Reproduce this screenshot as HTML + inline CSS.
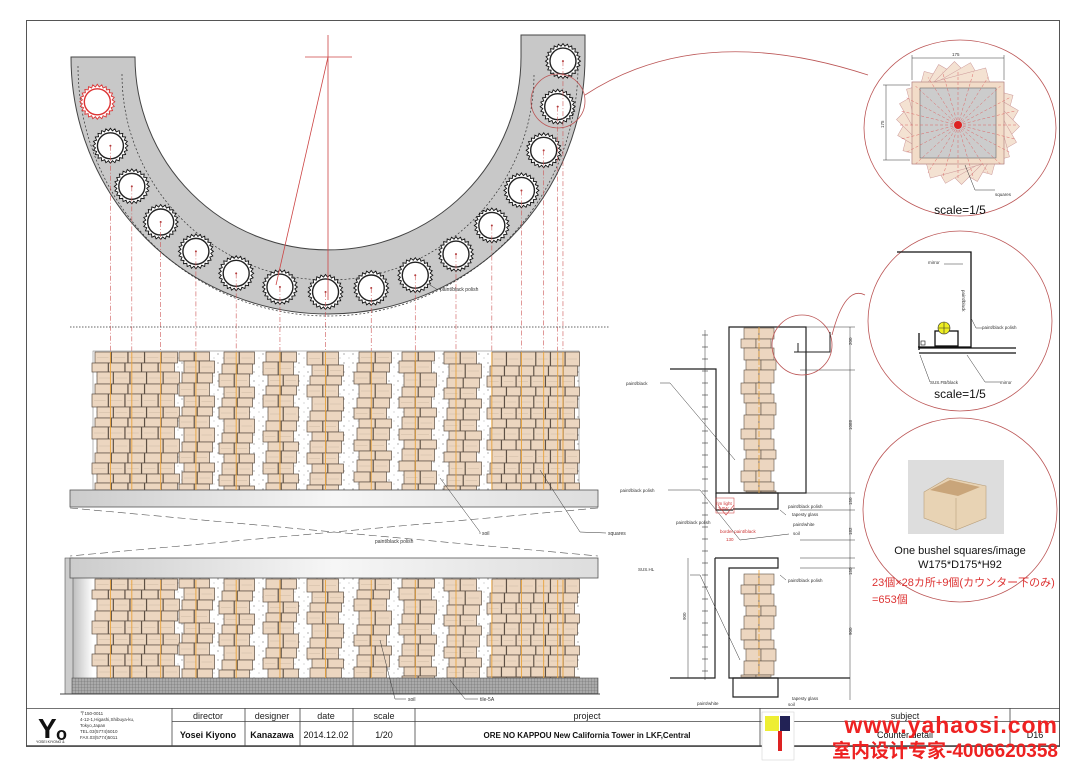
<!DOCTYPE html>
<html><head><meta charset="utf-8">
<style>
html,body{margin:0;padding:0;background:#fff;}
svg{display:block;font-family:"Liberation Sans","Noto Sans CJK SC",sans-serif;}
</style></head>
<body>
<svg id="s" width="1080" height="764" viewBox="0 0 1080 764" xmlns="http://www.w3.org/2000/svg">
<defs>
<pattern id="dots" width="9" height="9" patternUnits="userSpaceOnUse">
<rect width="9" height="9" fill="#fff"/><circle cx="2" cy="3" r="0.6" fill="#777"/><circle cx="7" cy="7" r="0.5" fill="#999"/>
</pattern>
<pattern id="grid" width="3" height="3" patternUnits="userSpaceOnUse">
<rect width="3" height="3" fill="#aaa"/><path d="M0 0H3M0 0V3" stroke="#666" stroke-width="0.6"/>
</pattern>
<linearGradient id="slab" x1="0" y1="0" x2="1" y2="0"><stop offset="0" stop-color="#ccc"/><stop offset="0.5" stop-color="#f6f6f6"/><stop offset="1" stop-color="#ddd"/></linearGradient>
<linearGradient id="wallg" x1="0" y1="0" x2="1" y2="0"><stop offset="0" stop-color="#bbb"/><stop offset="1" stop-color="#fff"/></linearGradient>
</defs>
<rect x="26.5" y="20.5" width="1033" height="726" fill="none" stroke="#555" stroke-width="1"/>

<path d="M71 57 L71 57 A257 257 0 0 0 585 57 L585 35 L521 35 L521 57 A193 193 0 0 1 135 57 L135 57 Z" fill="#c8c8c8" stroke="#444" stroke-width="1"/>
<path d="M78 66 A250 250 0 0 0 578 66" fill="none" stroke="#333" stroke-dasharray="2,2" stroke-width="0.7"/>
<path d="M122 74 A206 206 0 0 0 534 74" fill="none" stroke="#333" stroke-dasharray="2,2" stroke-width="0.7"/>
<g id="ringcircles"></g>

<line x1="328" y1="35" x2="328" y2="300" stroke="#c44" stroke-width="0.8"/>
<line x1="305" y1="57" x2="352" y2="57" stroke="#c44" stroke-width="0.8"/>
<line x1="328" y1="57" x2="276" y2="285" stroke="#c44" stroke-width="0.8"/>
<text x="440" y="291" font-size="5" fill="#333">paint/black polish</text>
<line x1="430" y1="285" x2="438" y2="290" stroke="#333" stroke-width="0.5"/>

<line x1="70" y1="327" x2="610" y2="327" stroke="#333" stroke-dasharray="1.5,1.5" stroke-width="0.8"/>

<rect x="93" y="351" width="486" height="139" fill="url(#dots)" stroke="#888" stroke-width="0.6"/>
<g id="bricks1"></g>
<rect x="70" y="490" width="528" height="17" fill="url(#slab)" stroke="#555" stroke-width="0.8"/>
<path d="M70 508 L598 556 M598 508 L70 556" stroke="#555" stroke-dasharray="8,4" stroke-width="0.6" fill="none"/>

<rect x="72" y="578" width="507" height="100" fill="url(#dots)"/>
<rect x="72" y="578" width="21" height="100" fill="url(#wallg)"/>
<g id="bricks2"></g>
<rect x="65" y="558" width="8" height="136" fill="#ccc" stroke="#555" stroke-width="0.6"/>
<rect x="70" y="558" width="528" height="20" fill="url(#slab)" stroke="#555" stroke-width="0.8"/>
<rect x="72" y="678" width="526" height="16" fill="url(#grid)" stroke="#555" stroke-width="0.6"/>
<line x1="60" y1="694" x2="600" y2="694" stroke="#444" stroke-width="1"/>
<g id="ovl"></g>

<text x="375" y="543" font-size="5" fill="#333">paint/black polish</text>
<text x="482" y="535" font-size="5" fill="#333">soil</text>
<text x="608" y="535" font-size="5" fill="#333">squares</text>
<path d="M440 478 L480 532 L480 534 M540 470 L580 532 L606 533" stroke="#333" stroke-width="0.5" fill="none"/>
<text x="408" y="701" font-size="5" fill="#333">soil</text>
<text x="480" y="701" font-size="5" fill="#333">tile-5A</text>
<path d="M380 640 L395 699 L406 699 M450 680 L465 699 L478 699" stroke="#333" stroke-width="0.5" fill="none"/>

<g stroke="#222" fill="none" stroke-width="1.2">
<path d="M729 327 L806 327 L806 493 L729 493 Z"/>
<path d="M729 493 L778 493 L778 509 L733 509"/>
<path d="M670 369 L716 369 L716 493 L729 493"/>
<path d="M716 493 L716 510 L733 510"/>
<path d="M715 558 L778 558 L778 568 L729 568 L729 678 L778 678"/>
<path d="M715 558 L715 678 L670 678"/>
<path d="M733 678 L778 678 L778 697 L733 697 Z"/>
<path d="M778 678 L850 678"/>
</g>
<g id="secb"></g>
<line x1="759" y1="327" x2="759" y2="493" stroke="#e8a33c" stroke-width="0.8" stroke-dasharray="6,2"/>
<line x1="759" y1="570" x2="759" y2="676" stroke="#e8a33c" stroke-width="0.8" stroke-dasharray="6,2"/>
<g stroke="#333" stroke-width="0.5">
<line x1="705" y1="330" x2="705" y2="680"/>
<line x1="850" y1="327" x2="850" y2="700"/>
<line x1="800" y1="327" x2="855" y2="327"/><line x1="800" y1="370" x2="855" y2="370"/>
<line x1="800" y1="493" x2="855" y2="493"/><line x1="800" y1="510" x2="855" y2="510"/>
<line x1="800" y1="540" x2="855" y2="540"/><line x1="800" y1="558" x2="855" y2="558"/>
<line x1="800" y1="568" x2="855" y2="568"/>
<line x1="688" y1="558" x2="688" y2="678"/>
</g>
<g id="ticks"></g>
<g font-size="4.5" fill="#333">
<text x="626" y="385">paint/black</text>
<text x="620" y="492">paint/black polish</text>
<text x="676" y="524">paint/black polish</text>
<text x="788" y="508">paint/black polish</text>
<text x="792" y="516">tapesty glass</text>
<text x="793" y="526">paint/white</text>
<text x="793" y="535">soil</text>
<text x="638" y="571">SUS.HL</text>
<text x="788" y="582">paint/black polish</text>
<text x="792" y="700">tapesty glass</text>
<text x="697" y="705">paint/white</text>
<text x="788" y="706">soil</text>
<text x="852" y="345" transform="rotate(-90 852 345)">200</text>
<text x="852" y="430" transform="rotate(-90 852 430)">1088</text>
<text x="852" y="505" transform="rotate(-90 852 505)">150</text>
<text x="852" y="535" transform="rotate(-90 852 535)">182</text>
<text x="852" y="575" transform="rotate(-90 852 575)">150</text>
<text x="852" y="635" transform="rotate(-90 852 635)">900</text>
<text x="686" y="620" transform="rotate(-90 686 620)">900</text>
</g>
<g fill="none" stroke="#333" stroke-width="0.5">
<path d="M660 383 L670 383 L735 460 M668 490 L700 490 L740 540 L789 534 M690 575 L700 575 L740 660 M780 510 L786 515 M780 575 L786 580"/>
</g>
<g fill="#c33" font-size="4.5"><text x="716" y="505">rim light</text><text x="718" y="510">3.0W</text><text x="720" y="533">border paint/black</text><text x="726" y="541">130</text></g>
<rect x="716" y="498" width="18" height="15" fill="none" stroke="#c33" stroke-width="0.5"/>
<path d="M718 505 l8 10 l8 -10" fill="none" stroke="#c33" stroke-width="0.6"/>

<circle cx="558" cy="101" r="27" fill="none" stroke="#b55" stroke-width="0.8"/>
<path d="M585 95 Q700 20 868 75" fill="none" stroke="#b55" stroke-width="0.8"/>
<circle cx="802" cy="345" r="30" fill="none" stroke="#b55" stroke-width="0.8"/>
<path d="M832 335 Q845 285 865 295" fill="none" stroke="#b55" stroke-width="0.8"/>
<path d="M798 343 L798 352 L806 352 M794 352 L830 352 L830 332" fill="none" stroke="#222" stroke-width="1"/>

<ellipse cx="960" cy="128" rx="96" ry="88" fill="#fff" stroke="#b55" stroke-width="0.8"/>
<g id="star"></g>
<rect x="912" y="82" width="92" height="82" fill="#f2dcc8" stroke="#a77" stroke-width="0.6"/>
<rect x="920" y="88" width="76" height="70" fill="#ccc" stroke="#666" stroke-width="0.6"/>
<g id="rays"></g>
<circle cx="958" cy="125" r="4" fill="#d22"/>
<g stroke="#333" stroke-width="0.5" fill="none"><path d="M912 55 V80 M1004 55 V80 M912 58 H1004 M883 85 H910 M883 160 H910 M886 85 V160"/><path d="M965 165 L975 190 L995 190"/></g>
<text x="952" y="56" font-size="4.5" fill="#333">175</text>
<text x="884" y="128" font-size="4.5" fill="#333" transform="rotate(-90 884 128)">175</text>
<text x="995" y="196" font-size="4.5" fill="#333">squares</text>
<text x="960" y="214" font-size="12" text-anchor="middle" fill="#111">scale=1/5</text>

<ellipse cx="960" cy="321" rx="92" ry="90" fill="#fff" stroke="#b55" stroke-width="0.8"/>
<g stroke="#111" stroke-width="1.3" fill="none">
<path d="M897 252 H971 V347 H918"/>
<path d="M919 333 V350 M919 348 H1016 M919 353 H1016"/>
<rect x="935" y="331" width="23" height="15"/>
<rect x="921" y="341" width="4" height="4" stroke-width="0.6"/>
</g>
<circle cx="944" cy="328" r="6" fill="#ee2" stroke="#333" stroke-width="0.6"/>
<path d="M938 328 H950 M944 322 V334" stroke="#333" stroke-width="0.6"/>
<g font-size="4.5" fill="#333"><text x="928" y="264">mirror</text><text x="982" y="329">paint/black polish</text><text x="930" y="384">SUS.FB/black</text><text x="1000" y="384">mirror</text><text x="962" y="290" transform="rotate(90 962 290)">paint/black</text></g>
<g stroke="#333" stroke-width="0.5" fill="none"><path d="M944 264 H963 M971 318 L976 328 H982 M920 355 L930 382 M967 355 L985 382 H1000"/></g>
<text x="960" y="398" font-size="12" text-anchor="middle" fill="#111">scale=1/5</text>

<ellipse cx="960" cy="510" rx="97" ry="92" fill="#fff" stroke="#b55" stroke-width="0.8"/>
<rect x="908" y="460" width="96" height="74" fill="#ddd"/>
<path d="M924 492 L948 478 L986 486 L986 518 L956 530 L924 518 Z" fill="#e8d3b4" stroke="#b9a07c" stroke-width="0.6"/>
<path d="M930 490 L950 480 L980 487 L958 496 Z" fill="#c9a57a"/>
<path d="M956 498 V530" stroke="#b9a07c" stroke-width="0.6"/>
<text x="960" y="554" font-size="11" text-anchor="middle" fill="#111">One bushel squares/image</text>
<text x="960" y="568" font-size="11" text-anchor="middle" fill="#111">W175*D175*H92</text>
<text x="872" y="586" font-size="11" fill="#d33">23個×28カ所+9個(カウンター下のみ)</text>
<text x="872" y="603" font-size="11" fill="#d33">=653個</text>

<g stroke="#444" stroke-width="0.8" fill="none">
<line x1="26" y1="708.5" x2="1060" y2="708.5"/>
<line x1="172" y1="721.5" x2="1060" y2="721.5"/>
<line x1="26" y1="745.5" x2="1060" y2="745.5"/>
<line x1="172" y1="708" x2="172" y2="746"/><line x1="245" y1="708" x2="245" y2="746"/>
<line x1="300" y1="708" x2="300" y2="746"/><line x1="353" y1="708" x2="353" y2="746"/>
<line x1="415" y1="708" x2="415" y2="746"/><line x1="760" y1="708" x2="760" y2="746"/>
<line x1="1010" y1="708" x2="1010" y2="746"/>
</g>
<text x="38" y="738" font-size="28" font-weight="bold" fill="#111">Y</text>
<text x="56" y="740" font-size="18" font-weight="bold" fill="#111">o</text>
<text x="36" y="743" font-size="3.5" fill="#111">YOSEI KIYONO &amp;</text>
<g font-size="4.5" fill="#333"><text x="80" y="715">〒150-0011</text><text x="80" y="721">4-12-1,Higashi,Shibuya-ku,</text><text x="80" y="727">Tokyo,Japan</text><text x="80" y="733">TEL.03(5774)5010</text><text x="80" y="739">FAX.03(5774)5011</text></g>
<g font-size="9" fill="#222" text-anchor="middle"><text x="208" y="719">director</text><text x="272" y="719">designer</text><text x="326" y="719">date</text><text x="384" y="719">scale</text><text x="587" y="719">project</text><text x="905" y="719">subject</text></g>
<g font-size="9" fill="#111" text-anchor="middle"><text x="208" y="738" font-weight="bold">Yosei Kiyono</text><text x="272" y="738" font-weight="bold">Kanazawa</text><text x="326" y="738">2014.12.02</text><text x="384" y="738">1/20</text><text x="587" y="738" font-weight="bold" font-size="8">ORE NO KAPPOU  New California Tower in LKF,Central</text><text x="905" y="738">Counter detail</text><text x="1035" y="738">D16</text></g>
<rect x="762" y="712" width="32" height="48" fill="#fff" stroke="#ccc" stroke-width="0.5"/>
<rect x="765" y="716" width="14" height="15" fill="#ee3"/><rect x="780" y="716" width="10" height="15" fill="#225"/><rect x="778" y="731" width="4" height="20" fill="#d22"/>
<text x="1058" y="733" font-size="23" font-weight="bold" fill="#e22" text-anchor="end" letter-spacing="1">www.yahaosi.com</text>
<text x="1058" y="757" font-size="19" font-weight="bold" fill="#e22" text-anchor="end">室内设计专家-4006620358</text>
</svg>
<script>
var NS="http://www.w3.org/2000/svg";
function el(p,t,a){var e=document.createElementNS(NS,t);for(var k in a)e.setAttribute(k,a[k]);p.appendChild(e);return e;}
var rc=document.getElementById('ringcircles');
var ovl=document.getElementById('ovl');
var xs=[];
for(var i=0;i<16;i++){var a=(169-i*11.2)*Math.PI/180;var x=328+235*Math.cos(a),y=57+235*Math.sin(a);
 var red=(i==0);
 var pts="";for(var j=0;j<48;j++){var b=j*Math.PI/24;var r=(j%2?15:17.5);pts+=(x+r*Math.cos(b)).toFixed(1)+","+(y+r*Math.sin(b)).toFixed(1)+" ";}
 el(rc,'polygon',{points:pts,fill:'#fff',stroke:red?'#d33':'#111','stroke-width':'0.9'});
 el(rc,'circle',{cx:x,cy:y,r:13,fill:'#fff',stroke:red?'#d33':'#222','stroke-width':'1.4'});
 if(!red){el(rc,'circle',{cx:x,cy:y,r:1,fill:'#a33'});
  el(rc,'line',{x1:x,y1:y,x2:x,y2:351,stroke:'#c55','stroke-width':'0.6','stroke-dasharray':'5,2,1,2'});
  xs.push(x);}
}
var cols=[[95,178],[182,213],[222,253],[266,297],[310,342],[357,390],[402,435],[447,480],[490,578]];
var hs=[11,9,12,10,13,11,9,12,14,10,11,9,12];
function bricks(g,y0,y1){
 for(var c=0;c<cols.length;c++){var a=cols[c][0],b=cols[c][1];
  for(var y=y0,row=0;y<y1;row++){var off=((row+c)%3==1)?-3:((row+c)%3==2?2:0);var h=Math.min(hs[(row+c)%hs.length],y1-y);
   var w=b-a;var n=Math.max(1,Math.round(w/16));var bw=w/n;
   for(var k=0;k<n;k++){var xx=a+k*bw+off;
    el(g,'rect',{x:xx.toFixed(1),y:y,width:(bw-0.5).toFixed(1),height:h,fill:'#ecd6c0',stroke:'#5e5045','stroke-width':'0.7'});
    if(h>10)el(g,'line',{x1:xx+2,y1:y+h/2,x2:xx+bw-3,y2:y+h/2,stroke:'#c8b49f','stroke-width':'0.4'});}
   y+=h;}}
}
bricks(document.getElementById('bricks1'),352,490);
bricks(document.getElementById('bricks2'),579,678);
for(var i=0;i<xs.length;i++){el(ovl,'line',{x1:xs[i],y1:352,x2:xs[i],y2:490,stroke:'#e8a33c','stroke-width':'0.9'});
 el(ovl,'line',{x1:xs[i],y1:580,x2:xs[i],y2:678,stroke:'#e8a33c','stroke-width':'0.9'});}
var sb=document.getElementById('secb');
function secb(y0,y1){for(var y=y0,r=0;y<y1;r++){var o=(r%4==1)?-3:(r%4==3?2:0);var h=Math.min(hs[r%hs.length],y1-y);el(sb,'rect',{x:744+o,y:y,width:15,height:h,fill:'#ecd6c0',stroke:'#5e5045','stroke-width':'0.6'});el(sb,'rect',{x:759+o,y:y,width:15,height:h,fill:'#ecd6c0',stroke:'#5e5045','stroke-width':'0.6'});y+=h;}}
secb(328,492);secb(574,677);
var tk=document.getElementById('ticks');
for(var y=335;y<680;y+=12){el(tk,'line',{x1:702,y1:y,x2:708,y2:y,stroke:'#333','stroke-width':'0.6'});}
var st=document.getElementById('star');
for(var i=0;i<6;i++){el(st,'rect',{x:912,y:82,width:92,height:82,fill:'#f4e2d2',stroke:'#c99','stroke-width':'0.5',transform:'rotate('+(i*15)+' 958 123)'});}
var ry=document.getElementById('rays');
for(var i=0;i<24;i++){var a=i*Math.PI/12;el(ry,'line',{x1:958,y1:125,x2:958+60*Math.cos(a),y2:125+55*Math.sin(a),stroke:'#d66','stroke-width':'0.5','stroke-dasharray':'3,2'});}
</script>
</body></html>
